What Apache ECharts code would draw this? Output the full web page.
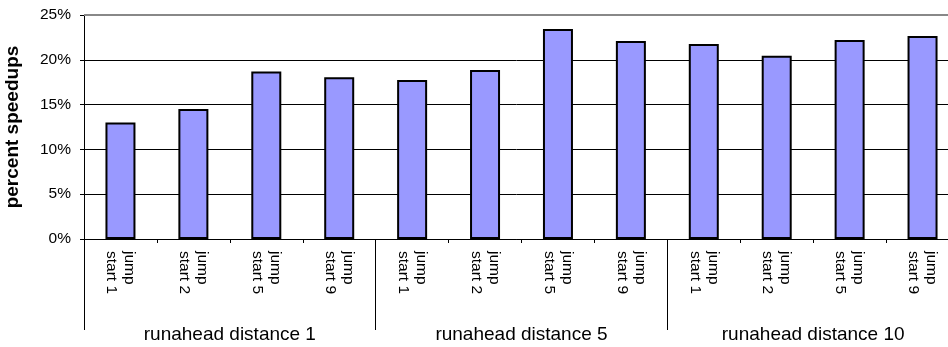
<!DOCTYPE html>
<html>
<head>
<meta charset="utf-8">
<script src="https://cdn.jsdelivr.net/npm/echarts@6/dist/echarts.min.js"></script>
<style>
html,body{margin:0;padding:0;background:#fff;}
#chart{width:948px;height:347px;}
</style>
</head>
<body>
<div id="chart"></div>
<script>
const categories = [
  'jump\nstart 1', 'jump\nstart 2', 'jump\nstart 5', 'jump\nstart 9',
  'jump\nstart 1', 'jump\nstart 2', 'jump\nstart 5', 'jump\nstart 9',
  'jump\nstart 1', 'jump\nstart 2', 'jump\nstart 5', 'jump\nstart 9'
];
const groups = ['runahead distance 1', 'runahead distance 5', 'runahead distance 10'];
const speedups = [13.0, 14.5, 18.7, 18.05, 17.75, 18.86, 23.45, 22.1, 21.76, 20.46, 22.2, 22.66];
const yTicks = { min: 0, max: 25, interval: 5 };

const FONT = '"Liberation Sans", Arial, sans-serif';
const chart = echarts.init(document.getElementById('chart'), null, { renderer: 'canvas' });
chart.setOption({
  animation: false,
  backgroundColor: '#fff',
  grid: { left: 84, top: 15, right: -11, bottom: 108, containLabel: false, outerBoundsMode: 'none' },
  xAxis: [
    {
      type: 'category',
      data: categories,
      position: 'bottom',
      axisLine: { show: true, lineStyle: { color: '#000', width: 1 } },
      axisTick: { show: true, length: 4, alignWithLabel: false, interval: 0, lineStyle: { color: '#000' } },
      axisLabel: {
        interval: 0, rotate: -90, margin: 12,
        fontFamily: FONT, fontSize: 15.5, lineHeight: 18, color: '#000'
      },
      splitLine: { show: false }
    },
    {
      type: 'category',
      data: groups,
      position: 'bottom',
      axisLine: { show: false },
      axisTick: { show: true, length: 91, interval: 0, lineStyle: { color: '#000' } },
      axisLabel: {
        interval: 0, margin: 86,
        fontFamily: FONT, fontSize: 19, lineHeight: 19, color: '#000'
      },
      splitLine: { show: false }
    }
  ],
  yAxis: {
    type: 'value',
    min: yTicks.min, max: yTicks.max, interval: yTicks.interval,
    name: 'percent speedups',
    nameLocation: 'middle',
    nameGap: 62,
    nameTextStyle: { fontFamily: FONT, fontSize: 19, fontWeight: 'bold', color: '#000' },
    axisLine: { show: true, lineStyle: { color: '#000', width: 1 } },
    axisTick: { show: true, length: 4, lineStyle: { color: '#000' } },
    axisLabel: {
      formatter: '{value}%', margin: 13,
      fontFamily: FONT, fontSize: 15.5, color: '#000'
    },
    splitLine: {
      show: true,
      lineStyle: { color: ['#000', '#000', '#000', '#000', '#000', '#888'], width: 1 }
    }
  },
  series: [{
    type: 'bar',
    data: speedups,
    xAxisIndex: 0,
    barWidth: 30,
    itemStyle: { color: '#9999FF', borderColor: '#000', borderWidth: 2 },
    markLine: {
      silent: true, symbol: 'none', label: { show: false },
      lineStyle: { color: '#888', width: 2, type: 'solid' },
      data: [{ yAxis: yTicks.max }]
    }
  }]
});
</script>
</body>
</html>
